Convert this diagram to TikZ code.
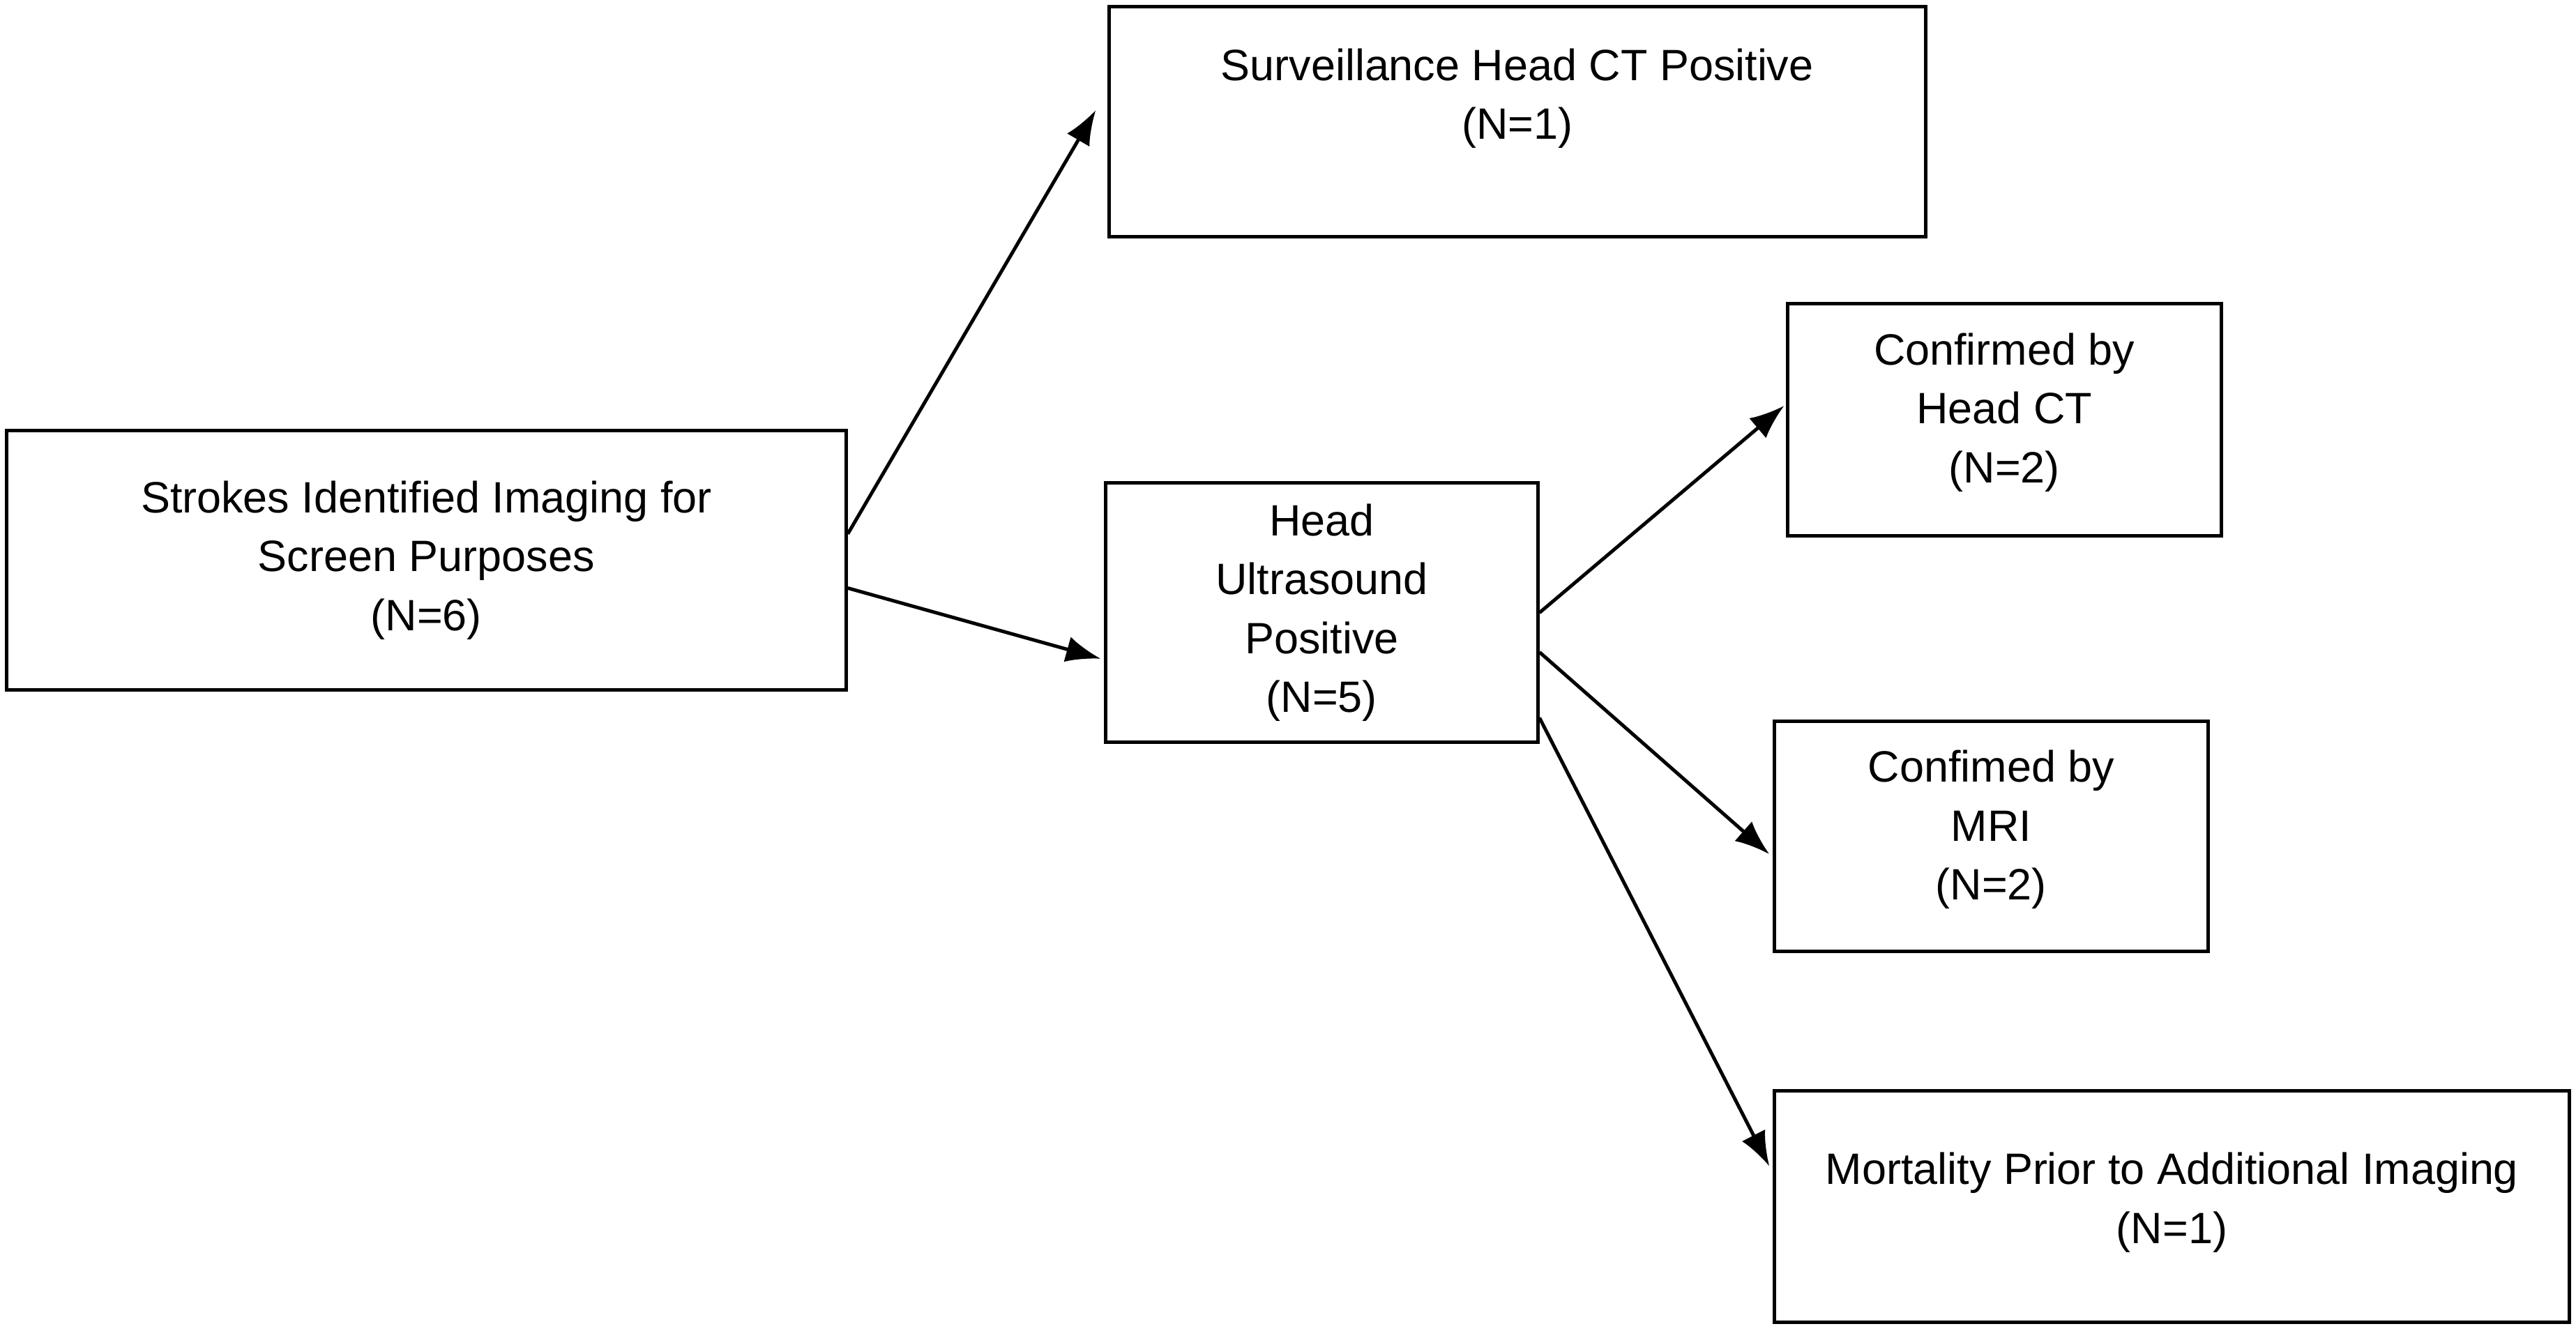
\documentclass[tikz,border=0pt]{standalone}
\usepackage{fontspec}
\setmainfont{Liberation Sans}
\usetikzlibrary{arrows.meta}
\begin{document}
\begin{tikzpicture}[
  box/.style={draw,line width=0.6pt,minimum width=#1,inner sep=0pt},
  txt/.style={align=center,font=\fontsize{7.6}{10.2}\selectfont},
  arr/.style={line width=0.6pt,-{Latex[length=6pt,width=4.5pt]}}]
\useasboundingbox (0,0) rectangle (15.68,-8.10);
\node[box=5.11cm,minimum height=1.58cm] (A) at (2.595,-3.41) {};
\node[txt] (At) at (A) {Strokes Identified Imaging for\\Screen Purposes\\(N=6)};
\node[box=4.97cm,minimum height=1.40cm] (B) at (9.235,-0.74) {};
\node[txt] (Bt) at (9.235,-0.60) {Surveillance Head CT Positive\\(N=1)};
\node[box=2.63cm,minimum height=1.58cm] (C) at (8.045,-3.73) {};
\node[txt] (Ct) at (C) {Head\\Ultrasound\\Positive\\(N=5)};
\node[box=2.64cm,minimum height=1.41cm] (D) at (12.20,-2.555) {};
\node[txt] (Dt) at (12.20,-2.51) {Confirmed by\\Head CT\\(N=2)};
\node[box=2.64cm,minimum height=1.40cm] (E) at (12.12,-5.09) {};
\node[txt] (Et) at (12.12,-5.05) {Confimed by\\MRI\\(N=2)};
\node[box=4.84cm,minimum height=1.41cm] (F) at (13.22,-7.345) {};
\node[txt] (Ft) at (13.22,-7.32) {Mortality Prior to Additional Imaging\\(N=1)};
\coordinate (eB) at (6.67,-0.67);
\coordinate (eC) at (6.70,-4.01);
\coordinate (eD) at (10.86,-2.47);
\coordinate (eE) at (10.77,-5.20);
\coordinate (eF) at (10.77,-7.10);
\draw[arr] ([yshift=0.16cm]A.east) -- (eB);
\draw[arr] ([yshift=-0.17cm]A.east) -- (eC);
\draw[arr] (C.east) -- (eD);
\draw[arr] ([yshift=-0.24cm]C.east) -- (eE);
\draw[arr] ([yshift=-0.64cm]C.east) -- (eF);
\end{tikzpicture}
\end{document}
